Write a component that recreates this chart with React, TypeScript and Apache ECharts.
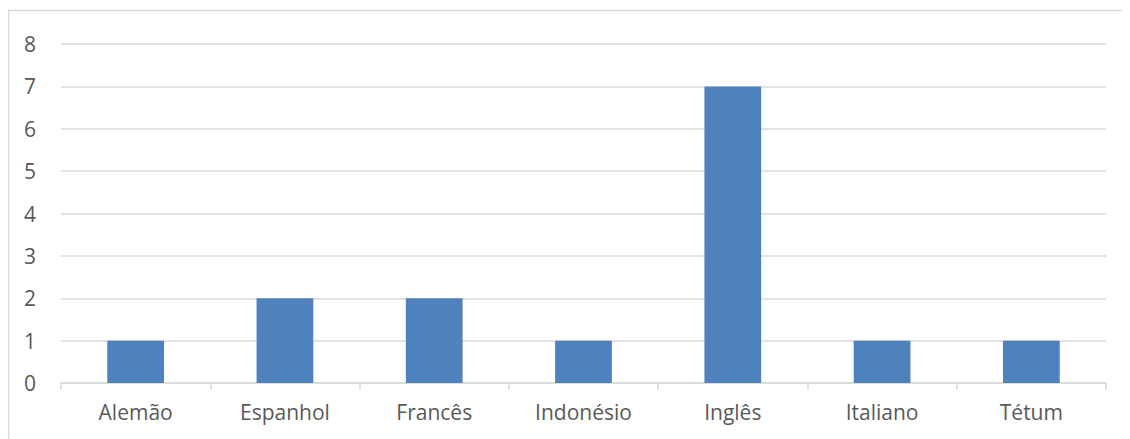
import React, { useEffect, useRef } from "react";
import * as echarts from "echarts";

const categories = ["Alemão", "Espanhol", "Francês", "Indonésio", "Inglês", "Italiano", "Tétum"];
const values = [1, 2, 2, 1, 7, 1, 1];
const yTicks = { min: 0, max: 8, interval: 1 };

export default function App() {
  const ref = useRef<HTMLDivElement>(null);
  useEffect(() => {
    if (!ref.current) return;
    const chart = echarts.init(ref.current, null, { renderer: "svg" });
    chart.setOption({
      animation: false,
      backgroundColor: "#ffffff",
      textStyle: { fontFamily: "Open Sans" },
      graphic: [
        {
          type: "rect",
          shape: { x: 0.5, y: 2.5, width: 1140, height: 460 },
          style: { fill: "none", stroke: "#d9d9d9", lineWidth: 1.5 },
          silent: true,
        },
      ],
      grid: { left: 53, right: 24, top: 36, bottom: 56 },
      xAxis: {
        type: "category",
        data: categories,
        axisLine: { lineStyle: { color: "#d9d9d9", width: 1.5 } },
        axisTick: { show: true, length: 7, lineStyle: { color: "#d9d9d9", width: 1.5 } },
        axisLabel: { color: "#595959", fontSize: 21, margin: 18 },
      },
      yAxis: {
        type: "value",
        min: yTicks.min,
        max: yTicks.max,
        interval: yTicks.interval,
        axisLine: { show: false },
        axisTick: { show: false },
        splitLine: { lineStyle: { color: "#d9d9d9", width: 1.5 } },
        axisLabel: { color: "#595959", fontSize: 21, margin: 25 },
      },
      series: [
        {
          type: "bar",
          data: values,
          barWidth: "38%",
          itemStyle: { color: "#4F81BD" },
        },
      ],
    });
    return () => chart.dispose();
  }, []);
  return <div ref={ref} style={{ width: 1122, height: 431 }} />;
}
